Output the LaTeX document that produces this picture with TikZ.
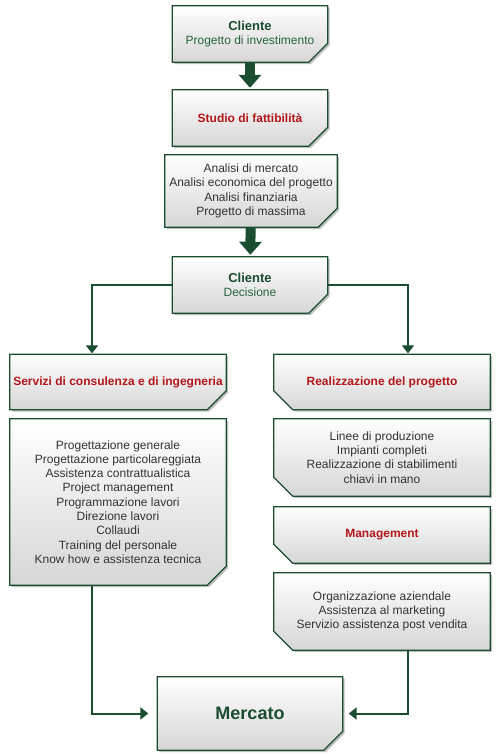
\documentclass[tikz,border=0pt]{standalone}
\usepackage{fontspec}
\setmainfont{Liberation Sans}
\definecolor{fcgreen}{RGB}{27,77,48}
\definecolor{fclight}{RGB}{40,100,60}
\definecolor{fcred}{RGB}{178,22,26}
\definecolor{fctext}{RGB}{51,51,51}
\usetikzlibrary{arrows.meta,shadows}
\pgfdeclarelayer{bg}
\pgfsetlayers{bg,main}

\begin{document}
\begin{tikzpicture}[x=1pt,y=-1pt,
  flowbox/.style={rectangle,inner sep=0pt,align=center,text=fctext,
    font=\fontsize{12}{14.3}\selectfont},
  boxfill/.style={draw=fcgreen,line width=1.2pt,top color=white,bottom color=black!16,
    drop shadow={shadow xshift=2pt,shadow yshift=-2pt,opacity=.25,fill=black}},
  bigarrow/.style={fcgreen,line width=10pt,-{Triangle[width=22pt,length=13pt]}},
  link/.style={fcgreen,line width=2pt,-{Triangle[width=12pt,length=8pt]}}
]
  \useasboundingbox (0,0) rectangle (500,756);
  \node[flowbox,minimum width=155pt,minimum height=56pt] (cliente) at (250,34) {
    {\fontsize{13}{16}\selectfont\bfseries\color{fcgreen}Cliente}\\{\color{fclight}Progetto di investimento}};
  \node[flowbox,minimum width=155pt,minimum height=56pt] (studio) at (250,118) {
    {\bfseries\color{fcred}Studio di fattibilità}};
  \node[flowbox,minimum width=172pt,minimum height=72pt] (analisi) at (251,191) {
    Analisi di mercato\\Analisi economica del progetto\\Analisi finanziaria\\Progetto di massima};
  \node[flowbox,minimum width=155pt,minimum height=56pt] (decisione) at (250,285) {
    {\fontsize{13}{16}\selectfont\bfseries\color{fcgreen}Cliente}\\{\color{fclight}Decisione}};
  \node[flowbox,minimum width=216pt,minimum height=55pt] (servizi) at (118,382) {
    {\bfseries\color{fcred}Servizi di consulenza e di ingegneria}};
  \node[flowbox,minimum width=216pt,minimum height=166pt] (servlist) at (118,502) {
    Progettazione generale\\Progettazione particolareggiata\\Assistenza contrattualistica\\
    Project management\\Programmazione lavori\\Direzione lavori\\Collaudi\\
    Training del personale\\Know how e assistenza tecnica};
  \node[flowbox,minimum width=216pt,minimum height=55pt] (realiz) at (382,382) {
    {\bfseries\color{fcred}Realizzazione del progetto}};
  \node[flowbox,minimum width=216pt,minimum height=77pt] (linee) at (382,457.5) {
    Linee di produzione\\Impianti completi\\Realizzazione di stabilimenti\\chiavi in mano};
  \node[flowbox,minimum width=216pt,minimum height=56pt] (mgmt) at (382,535) {
    {\bfseries\color{fcred}Management}};
  \node[flowbox,minimum width=216pt,minimum height=77pt] (organiz) at (382,611.5) {
    Organizzazione aziendale\\Assistenza al marketing\\Servizio assistenza post vendita};
  \node[flowbox,minimum width=185pt,minimum height=73pt] (mercato) at (250,713.5) {
    {\fontsize{18}{21}\selectfont\bfseries\color{fcgreen}Mercato}};

  \begin{pgfonlayer}{bg}
    \foreach \b in {cliente,studio,analisi,decisione,servizi,servlist,mercato}
      \path[boxfill] (\b.north west) -- (\b.north east) -- ([yshift=19pt]\b.south east)
        -- ([xshift=-19pt]\b.south east) -- (\b.south west) -- cycle;
    \foreach \b in {realiz,linee,mgmt,organiz}
      \path[boxfill] (\b.north west) -- (\b.north east) -- (\b.south east)
        -- ([xshift=19pt]\b.south west) -- ([yshift=19pt]\b.south west) -- cycle;
  \end{pgfonlayer}

  \draw[bigarrow,shorten >=2pt] (cliente) -- (studio);
  \draw[bigarrow,shorten >=2pt] (analisi) -- (decisione);
  \draw[link,shorten >=1pt] (decisione.west) -| ([xshift=-26pt]servizi.north);
  \draw[link,shorten >=1pt] (decisione.east) -| ([xshift=26pt]realiz.north);
  \draw[link,shorten >=9pt] ([xshift=-26pt]servlist.south) |- (mercato.west);
  \draw[link,shorten >=6pt] ([xshift=26pt]organiz.south) |- (mercato.east);
\end{tikzpicture}
\end{document}
